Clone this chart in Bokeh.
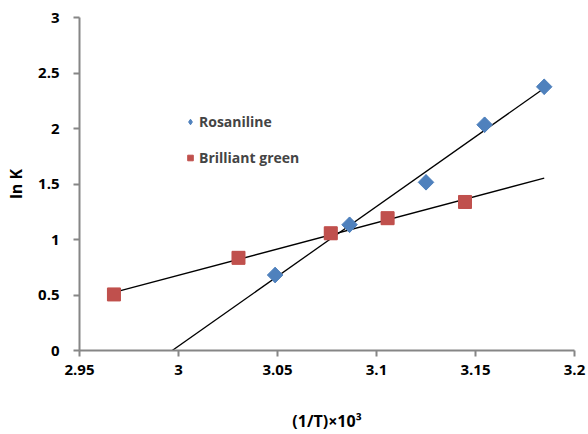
import numpy as np
from bokeh.plotting import figure
from bokeh.models import FixedTicker, Legend, LegendItem, Range1d
from bokeh.embed import file_html
from bokeh.resources import INLINE

# Data
ros_x = [3.0488, 3.0864, 3.1250, 3.1546, 3.1847]
ros_y = [0.680, 1.133, 1.515, 2.034, 2.376]
bg_x = [2.9674, 3.0303, 3.0769, 3.1056, 3.1447]
bg_y = [0.505, 0.835, 1.056, 1.192, 1.338]

x_ticks = [2.95, 3.0, 3.05, 3.1, 3.15, 3.2]
x_labels = ["2.95", "3", "3.05", "3.1", "3.15", "3.2"]
y_ticks = [0, 0.5, 1, 1.5, 2, 2.5, 3]
y_labels = ["0", "0.5", "1", "1.5", "2", "2.5", "3"]

FONT = "Open Sans"
AXIS_COLOR = "#868686"
BLUE = "#4F81BD"
RED = "#C0504D"

p = figure(width=588, height=434, output_backend="svg", toolbar_location=None,
           x_range=Range1d(2.95, 3.2), y_range=Range1d(0, 3),
           min_border_left=79, min_border_right=14, min_border_top=17, min_border_bottom=83)
p.outline_line_color = None
p.xgrid.visible = False
p.ygrid.visible = False

# Linear trendlines fitted to each series, spanning the common x extent
x_lo, x_hi = min(bg_x), max(ros_x)
for xs, ys in ((ros_x, ros_y), (bg_x, bg_y)):
    m, c = np.polyfit(xs, ys, 1)
    p.line([x_lo, x_hi], [m * x_lo + c, m * x_hi + c], line_color="black", line_width=1.3)

# legend proxies, hidden beneath the real markers, so the legend shows a diamond and a square
l1 = p.scatter(ros_x, ros_y, marker="diamond", size=15, fill_color=BLUE, line_color=BLUE)
l2 = p.scatter(bg_x, bg_y, marker="square", size=12, fill_color=RED, line_color=RED)

r1 = p.scatter(ros_x, ros_y, marker="square", angle=np.pi / 4, size=11,
               fill_color=BLUE, line_color=BLUE)
r2 = p.scatter(bg_x, bg_y, marker="square", size=13, fill_color=RED, line_color=RED)

legend = Legend(items=[LegendItem(label="Rosaniline", renderers=[l1]),
                       LegendItem(label="Brilliant green", renderers=[l2])],
                location=(104, 183), border_line_color=None, background_fill_alpha=0,
                label_text_font=FONT, label_text_font_style="bold", label_text_font_size="14px",
                glyph_width=14, glyph_height=17, label_standoff=2, spacing=17, padding=0, margin=0)
p.add_layout(legend)

for ax in (p.xaxis[0], p.yaxis[0]):
    ax.axis_line_color = AXIS_COLOR
    ax.axis_line_width = 2
    ax.major_tick_line_color = AXIS_COLOR
    ax.major_tick_line_width = 2
    ax.major_tick_out = 6
    ax.major_tick_in = 0
    ax.minor_tick_line_color = None
    ax.major_label_text_font = FONT
    ax.major_label_text_font_style = "bold"
    ax.major_label_text_font_size = "15px"
    ax.major_label_text_color = "black"
    ax.axis_label_text_font = FONT
    ax.axis_label_text_font_style = "bold"
    ax.axis_label_text_font_size = "16px"
    ax.axis_label_text_color = "black"

p.xaxis.ticker = FixedTicker(ticks=x_ticks)
p.xaxis.major_label_overrides = {t: l for t, l in zip(x_ticks, x_labels)}
p.yaxis.ticker = FixedTicker(ticks=y_ticks)
p.yaxis.major_label_overrides = {t: l for t, l in zip(y_ticks, y_labels)}
p.xaxis.axis_label = "(1/T)×10³"
p.yaxis.axis_label = "ln K"
p.xaxis.axis_label_standoff = 32
p.yaxis.axis_label_standoff = 8
p.xaxis.major_label_standoff = 8
p.yaxis.major_label_standoff = 14

open("out.html", "w").write(file_html(p, INLINE))
